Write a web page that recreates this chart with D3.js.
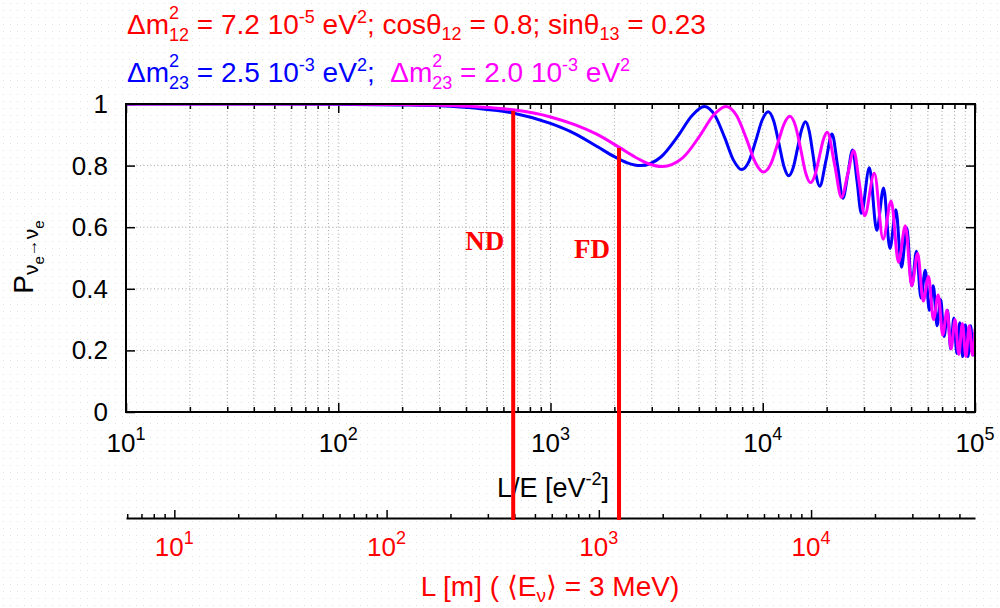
<!DOCTYPE html>
<html>
<head>
<meta charset="utf-8">
<script src="https://cdn.jsdelivr.net/npm/d3@7"></script>
<style>
  body { margin: 0; background: #fff; }
  text { font-family: "Liberation Sans", Arial, sans-serif; white-space: pre; }
  text.det { font-family: "Liberation Serif", "Times New Roman", serif; font-weight: bold; }
</style>
</head>
<body>
<div id="chart"></div>
<script>
// values (L/E in eV^-2, survival probability)
const blueLE = [10, 50, 100, 200, 300, 450, 665, 1000, 1300, 1650, 2000, 2300, 2650,
  3313, 3975, 4638, 5300, 5963, 6625, 7288, 7950, 8613, 9275, 9938, 10600,
  11263, 11925, 12588, 13250, 13913, 14575, 15238, 15900, 16563, 17225, 17888, 18550,
  19875, 21200, 22525, 23850, 25175, 26500, 27825, 29150,
  31800, 34450, 37100, 39750, 42400, 45050, 47700, 50350, 53000, 55650,
  58300, 60950, 63600, 66250, 68900, 71550, 74200, 76850, 79500, 82150,
  84800, 87450, 90100, 92750, 95400, 98050, 100000];
const blueP = [1.000, 1.000, 0.999, 0.997, 0.994, 0.986, 0.971, 0.937, 0.904, 0.863, 0.829, 0.809, 0.800,
  0.828, 0.895, 0.962, 0.992, 0.962, 0.890, 0.817, 0.787, 0.814, 0.881, 0.948, 0.975,
  0.945, 0.871, 0.797, 0.767, 0.793, 0.855, 0.916, 0.942, 0.911, 0.838, 0.764, 0.733,
  0.818, 0.903, 0.799, 0.694, 0.773, 0.851, 0.748, 0.645,
  0.793, 0.590, 0.727, 0.531, 0.657, 0.470, 0.598, 0.410, 0.522, 0.370,
  0.460, 0.330, 0.410, 0.280, 0.365, 0.245, 0.330, 0.205, 0.305, 0.190,
  0.290, 0.180, 0.283, 0.180, 0.280, 0.185, 0.260];

const magentaLE = [10, 50, 100, 200, 300, 450, 665, 1000, 1300, 1650, 2100, 2500, 2900, 3355,
  4194, 5033, 5871, 6710, 7549, 8388, 9226, 10065, 10904, 11743, 12581, 13420,
  14259, 15098, 15936, 16775, 17614, 18453, 19291, 20130, 21808, 23485, 25163, 26840, 28518, 30195,
  33550, 36905, 40260, 43615, 46970, 50325, 53680, 57035, 60390, 63745,
  67100, 70455, 73810, 77165, 80520, 83875, 87230, 90585, 93940, 97295, 100000];
const magentaP = [1.000, 1.000, 1.000, 0.998, 0.996, 0.991, 0.981, 0.958, 0.933, 0.902, 0.860, 0.828, 0.806, 0.797,
  0.825, 0.895, 0.964, 0.992, 0.961, 0.886, 0.810, 0.779, 0.805, 0.870, 0.934, 0.960,
  0.929, 0.853, 0.776, 0.745, 0.769, 0.827, 0.884, 0.908, 0.803, 0.697, 0.773, 0.848, 0.743, 0.637,
  0.775, 0.561, 0.685, 0.486, 0.605, 0.410, 0.515, 0.360, 0.440, 0.300,
  0.380, 0.250, 0.330, 0.205, 0.300, 0.187, 0.287, 0.180, 0.280, 0.184, 0.270];

const xTicks = [1e1, 1e2, 1e3, 1e4, 1e5];
const yTicks = [0, 0.2, 0.4, 0.6, 0.8, 1];
const lTicks = [1e1, 1e2, 1e3, 1e4];

const detectorNames = ["ND", "FD"];
const detectorL = [395, 1245];        // metres
const detectorTop = [0.978, 0.857];   // where the red line meets the curves
const metresPerLE = 0.592;            // L[m] per L/E[eV^-2] for <E> = 3 MeV

const RED = "#ff0000", BLUE = "#0000ff", MAGENTA = "#ff00ff";

const W = 1000, H = 608;
const pL = 126, pR = 975, pT = 104, pB = 412, axis2Y = 518;

const svg = d3.select("#chart").append("svg")
  .attr("width", W).attr("height", H)
  .attr("xml:space", "preserve");

// faint dotted paper texture
const defs = svg.append("defs");
const pat = defs.append("pattern").attr("id", "dots")
  .attr("width", 7).attr("height", 7).attr("patternUnits", "userSpaceOnUse");
pat.append("rect").attr("x", 3).attr("y", 3).attr("width", 1).attr("height", 1).attr("fill", "#e2e2e2");
svg.append("rect").attr("width", W).attr("height", H).attr("fill", "url(#dots)");

defs.append("clipPath").attr("id", "plot")
  .append("rect").attr("x", pL).attr("y", pT).attr("width", pR - pL).attr("height", pB - pT);

const x = d3.scaleLog().domain([1e1, 1e5]).range([pL, pR]);
const y = d3.scaleLinear().domain([0, 1]).range([pB, pT]);
const xL = d3.scaleLog().domain([1e1 * metresPerLE, 1e5 * metresPerLE]).range([pL, pR]);

// rich text: pieces [text, size, dy, stackWithPrevious, color]
function rich(parent, px, py, parts, opts = {}) {
  const g = parent.append("g");
  let cx = 0, prevStart = 0, prevW = 0;
  parts.forEach(([t, size, dy, stack, color]) => {
    const start = stack ? prevStart : cx;
    const el = g.append("text")
      .attr("x", start).attr("y", dy || 0)
      .attr("font-size", size)
      .attr("fill", color || opts.color || "#000")
      .text(t);
    const w = el.node().getComputedTextLength();
    cx = stack ? start + Math.max(prevW, w) : start + w;
    prevStart = start; prevW = w;
  });
  const dx = opts.anchor === "middle" ? -cx / 2 : opts.anchor === "end" ? -cx : 0;
  g.attr("transform", `translate(${px},${py}) rotate(${opts.rotate || 0}) translate(${dx},0)`);
  return cx;
}

const isMajor = d => Math.abs(Math.log10(d) - Math.round(Math.log10(d))) < 1e-9;
const xMinor = x.ticks().filter(d => !isMajor(d));

// grid
const grid = svg.append("g").attr("stroke", "#a8a8a8").attr("stroke-width", 1).attr("stroke-dasharray", "1,2.5");
grid.selectAll("line.v").data(x.ticks().filter(d => d > 1e1 && d < 1e5)).join("line")
  .attr("x1", d => x(d)).attr("x2", d => x(d)).attr("y1", pT).attr("y2", pB);
grid.selectAll("line.h").data(yTicks.filter(d => d > 0 && d < 1)).join("line")
  .attr("x1", pL).attr("x2", pR).attr("y1", d => y(d)).attr("y2", d => y(d));

// tick marks on all four sides
function ticks(axis, tx, ty, vals, size) {
  const g = svg.append("g").attr("transform", `translate(${tx},${ty})`)
    .call(axis.tickValues(vals).tickSize(size).tickSizeOuter(0).tickFormat(""));
  g.select(".domain").remove();
  g.selectAll(".tick line").attr("stroke", "#000").attr("stroke-width", 1.5);
}
ticks(d3.axisBottom(x), 0, pB, xTicks, -9);
ticks(d3.axisBottom(x), 0, pB, xMinor, -5);
ticks(d3.axisTop(x), 0, pT, xTicks, -9);
ticks(d3.axisTop(x), 0, pT, xMinor, -5);
ticks(d3.axisLeft(y), pL, 0, yTicks, -9);
ticks(d3.axisRight(y), pR, 0, yTicks, -9);

// curves
const line = d3.line().x(d => x(d[0])).y(d => y(d[1])).curve(d3.curveMonotoneX);
const curves = svg.append("g").attr("clip-path", "url(#plot)").attr("fill", "none")
  .attr("stroke-width", 3).attr("stroke-linejoin", "round");
curves.append("path").attr("d", line(d3.zip(blueLE, blueP))).attr("stroke", BLUE);
curves.append("path").attr("d", line(d3.zip(magentaLE, magentaP))).attr("stroke", MAGENTA);

// border
svg.append("rect").attr("x", pL).attr("y", pT).attr("width", pR - pL).attr("height", pB - pT)
  .attr("fill", "none").attr("stroke", "#000").attr("stroke-width", 2);

// y tick labels
const fmt = d3.format("~g");
yTicks.forEach(d => {
  svg.append("text").attr("x", 108).attr("y", y(d) + 9).attr("text-anchor", "end")
    .attr("font-size", 26).text(fmt(d));
});

// x tick labels 10^n
xTicks.forEach(d => {
  rich(svg, x(d), 452, [["10", 26, 0], [String(Math.round(Math.log10(d))), 18, -12]], { anchor: "middle" });
});

rich(svg, 553, 497, [["L/E [eV", 27, 0], ["-2", 18, -12], ["]", 27, 0]], { anchor: "middle" });

// y axis title
rich(svg, 33, 257, [["P", 28, 0], ["ν", 21, 5], ["e", 15, 11], ["→", 17, 4], ["ν", 21, 5], ["e", 15, 11]],
  { anchor: "middle", rotate: -90 });

// second axis in metres
const ax2 = svg.append("g").attr("transform", `translate(0,${axis2Y})`)
  .call(d3.axisTop(xL).tickValues(lTicks).tickSize(8).tickSizeOuter(0).tickFormat(""));
svg.append("g").attr("transform", `translate(0,${axis2Y})`)
  .call(d3.axisTop(xL).tickValues(xL.ticks().filter(d => !isMajor(d))).tickSize(4).tickSizeOuter(0).tickFormat(""))
  .select(".domain").remove();
ax2.select(".domain").attr("stroke", "#000").attr("stroke-width", 2);
svg.selectAll(".tick line").attr("stroke", "#000").attr("stroke-width", 1.5);

lTicks.forEach(d => {
  rich(svg, xL(d), 556, [["10", 26, 0], [String(Math.round(Math.log10(d))), 18, -12]], { anchor: "middle", color: RED });
});
rich(svg, 550, 596, [["L [m] ( ⟨E", 28, 0], ["ν", 19, 6], ["⟩ = 3 MeV)", 28, 0]], { anchor: "middle", color: RED });

// detector lines
detectorNames.forEach((name, i) => {
  const px = x(detectorL[i] / metresPerLE);
  svg.append("line").attr("x1", px).attr("x2", px)
    .attr("y1", y(detectorTop[i])).attr("y2", axis2Y + 2)
    .attr("stroke", RED).attr("stroke-width", 4);
  svg.append("text").attr("class", "det").attr("x", px - 9).attr("y", i === 0 ? 250 : 258)
    .attr("text-anchor", "end").attr("font-size", 27).attr("fill", RED).text(name);
});

// header lines
rich(svg, 127, 34, [
  ["Δm", 28, 0], ["2", 18, -15], ["12", 18, 7, true],
  [" = 7.2 10", 28, 0], ["-5", 18, -11], [" eV", 28, 0], ["2", 18, -11],
  ["; cosθ", 28, 0], ["12", 18, 6], [" = 0.8; sinθ", 28, 0], ["13", 18, 6], [" = 0.23", 28, 0]
], { color: RED });

rich(svg, 127, 82, [
  ["Δm", 28, 0, false, BLUE], ["2", 18, -15, false, BLUE], ["23", 18, 7, true, BLUE],
  [" = 2.5 10", 28, 0, false, BLUE], ["-3", 18, -11, false, BLUE], [" eV", 28, 0, false, BLUE], ["2", 18, -11, false, BLUE],
  [";  ", 28, 0, false, BLUE],
  ["Δm", 28, 0, false, MAGENTA], ["2", 18, -15, false, MAGENTA], ["23", 18, 7, true, MAGENTA],
  [" = 2.0 10", 28, 0, false, MAGENTA], ["-3", 18, -11, false, MAGENTA], [" eV", 28, 0, false, MAGENTA], ["2", 18, -11, false, MAGENTA]
]);
</script>
</body>
</html>
